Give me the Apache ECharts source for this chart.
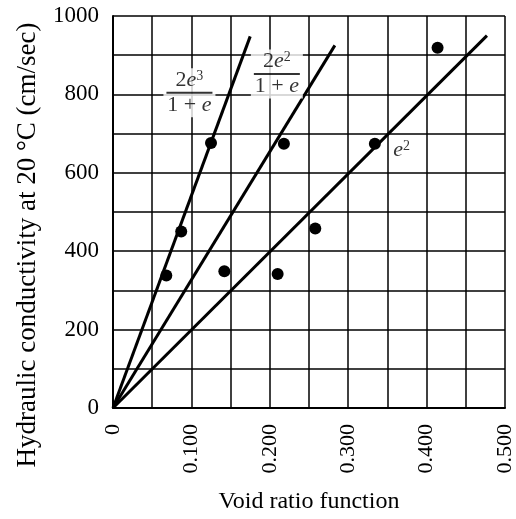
<!DOCTYPE html>
<html lang="en">
<head>
    <meta charset="UTF-8" />
    <title>Hydraulic conductivity vs void ratio function</title>
    <script src="https://cdn.jsdelivr.net/npm/echarts@6/dist/echarts.min.js"></script>
</head>
<body style="margin: 0; background: #fff">
    <div id="chart" style="width: 516px; height: 519px"></div>
    <script>
        // measured points (void ratio function, conductivity)
        var voidRatio = [0.068, 0.087, 0.125, 0.142, 0.210, 0.218, 0.258, 0.334, 0.414];
        var conductivity = [338, 450, 676, 349, 342, 674, 458, 674, 919];

        // fitted lines through origin: end point of each one
        var lineNames = ["2e3/(1+e)", "2e2/(1+e)", "e2"];
        var lineEndX = [0.175, 0.283, 0.477];
        var lineEndY = [948, 925, 950];

        // where each line's formula is written
        var labelX = [0.0975, 0.209, 0.368];
        var labelY = [804, 852, 658];
        var labelText = [
            "{n|2}{i|e}{s|3}\n{bar| }\n{n|1 + }{i|e}",
            "{n|2}{i|e}{s|2}\n{bar| }\n{n|1 + }{i|e}",
            "{i|e}{s|2}"
        ];

        var xTicks = ["0", "0.100", "0.200", "0.300", "0.400", "0.500"];
        var yTicks = ["0", "200", "400", "600", "800", "1000"];

        var font = "Liberation Serif";
        var chart = echarts.init(document.getElementById("chart"));

        var series = [];
        for (var i = 0; i < lineNames.length; i++) {
            series.push({
                name: lineNames[i],
                type: "line",
                symbol: "none",
                lineStyle: { color: "#000", width: 3 },
                data: [[0, 0], [lineEndX[i], lineEndY[i]]],
                z: 3
            });
        }

        var points = [];
        for (var i = 0; i < voidRatio.length; i++) {
            points.push([voidRatio[i], conductivity[i]]);
        }
        series.push({
            type: "scatter",
            symbol: "circle",
            symbolSize: 12,
            itemStyle: { color: "#000", opacity: 1 },
            data: points,
            z: 4
        });

        var rich = {
            n: { fontFamily: font, fontSize: 22, color: "#000", lineHeight: 22 },
            i: { fontFamily: font, fontSize: 22, fontStyle: "italic", color: "#000", lineHeight: 22 },
            s: { fontFamily: font, fontSize: 14, color: "#000", verticalAlign: "top", lineHeight: 22 },
            bar: { width: 46, height: 2, lineHeight: 3, fontSize: 1, backgroundColor: "#000" }
        };
        var labelData = [];
        for (var i = 0; i < labelX.length; i++) {
            labelData.push({
                value: [labelX[i], labelY[i]],
                label: {
                    formatter: labelText[i],
                    backgroundColor: i < 2 ? "#fff" : "transparent",
                    padding: [1, 3]
                }
            });
        }
        series.push({
            type: "scatter",
            symbolSize: 1,
            itemStyle: { color: "transparent" },
            label: { show: true, position: "inside", rich: rich },
            data: labelData,
            z: 5,
            silent: true
        });

        var option = {
            animation: false,
            grid: { left: 113, right: 8, top: 16, bottom: 105 },
            xAxis: {
                type: "value",
                min: 0,
                max: 0.5,
                interval: 0.05,
                name: "Void ratio function",
                nameLocation: "middle",
                nameGap: 82,
                nameTextStyle: { fontFamily: font, fontSize: 24, color: "#000" },
                axisLine: { lineStyle: { color: "#000", width: 2 } },
                axisTick: { show: false },
                splitLine: { show: true, lineStyle: { color: "#000", width: 1.5 } },
                axisLabel: {
                    rotate: 90,
                    margin: 16,
                    fontFamily: font,
                    fontSize: 22,
                    color: "#000",
                    formatter: function (v) {
                        var k = Math.round(v / 0.05);
                        return k % 2 === 0 ? xTicks[k / 2] : "";
                    }
                }
            },
            yAxis: {
                type: "value",
                min: 0,
                max: 1000,
                interval: 100,
                name: "Hydraulic conductivity at 20 °C (cm/sec)",
                nameLocation: "middle",
                nameGap: 72,
                nameTextStyle: { fontFamily: font, fontSize: 27, color: "#000", padding: [0, 66, 0, 0] },
                axisLine: { show: true, lineStyle: { color: "#000", width: 2 } },
                axisTick: { show: false },
                splitLine: { show: true, lineStyle: { color: "#000", width: 1.5 } },
                axisLabel: {
                    margin: 14,
                    fontFamily: font,
                    fontSize: 23,
                    color: "#000",
                    formatter: function (v) {
                        var k = Math.round(v / 100);
                        return k % 2 === 0 ? yTicks[k / 2] : "";
                    }
                }
            },
            series: series
        };
        chart.setOption(option);
    </script>
</body>
</html>
